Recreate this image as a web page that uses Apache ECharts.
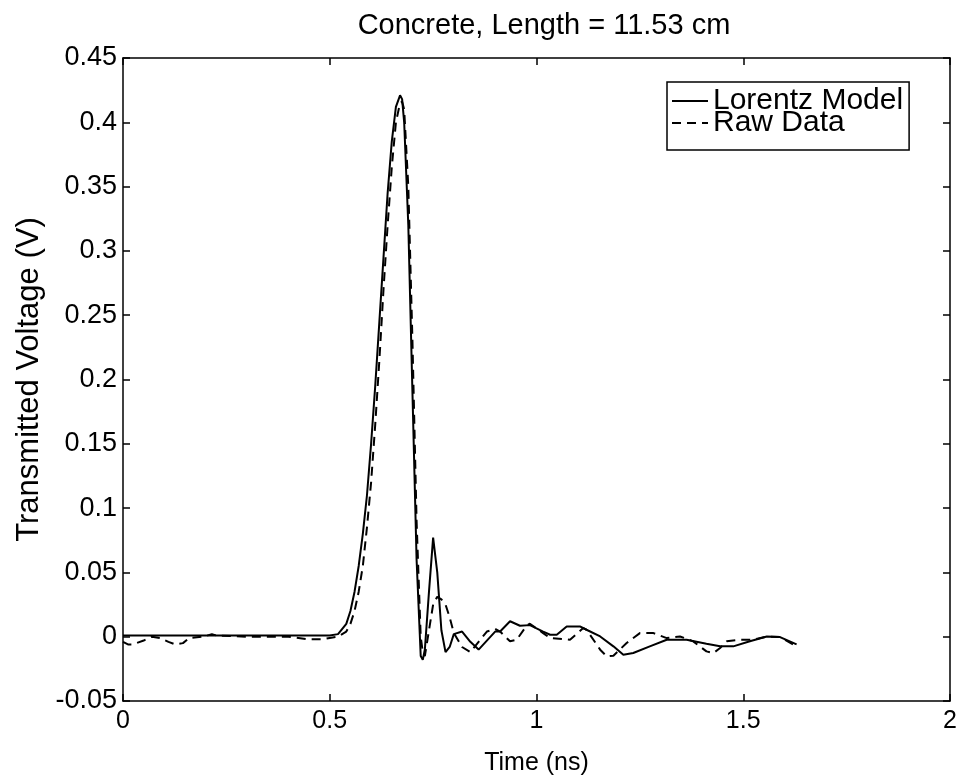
<!DOCTYPE html>
<html>
<head>
<meta charset="utf-8">
<script src="https://cdn.jsdelivr.net/npm/echarts@6/dist/echarts.min.js"></script>
<style>html,body{margin:0;padding:0;background:#fff;}#c{width:960px;height:782px;}</style>
</head>
<body>
<div id="c"></div>
<script>
const titleText = 'Concrete, Length = 11.53 cm';
const xName = 'Time (ns)';
const yName = 'Transmitted Voltage (V)';
const seriesNames = ['Lorentz Model', 'Raw Data'];

const lorentzTime = [0, 0.1, 0.2, 0.3, 0.4, 0.5, 0.52, 0.54, 0.55, 0.56, 0.57, 0.58, 0.59, 0.60, 0.61, 0.62, 0.63, 0.64, 0.65, 0.66, 0.67, 0.675, 0.68, 0.69, 0.70, 0.71, 0.72, 0.725, 0.73, 0.74, 0.75, 0.76, 0.77, 0.78, 0.79, 0.80, 0.82, 0.84, 0.86, 0.88, 0.90, 0.912, 0.936, 0.960, 0.984, 1.016, 1.033, 1.049, 1.073, 1.105, 1.121, 1.154, 1.186, 1.210, 1.234, 1.274, 1.315, 1.363, 1.411, 1.444, 1.476, 1.516, 1.557, 1.589, 1.629];
const lorentzVolt = [0.001, 0.001, 0.001, 0.001, 0.001, 0.001, 0.002, 0.01, 0.02, 0.035, 0.055, 0.08, 0.11, 0.15, 0.195, 0.245, 0.295, 0.345, 0.385, 0.412, 0.421, 0.418, 0.40, 0.32, 0.19, 0.06, -0.015, -0.018, -0.01, 0.035, 0.077, 0.05, 0.005, -0.012, -0.008, 0.002, 0.004, -0.004, -0.01, -0.003, 0.004, 0.004, 0.012, 0.0085, 0.009, 0.004, 0.0015, 0.0015, 0.008, 0.008, 0.0054, 0.0002, -0.0075, -0.014, -0.0127, -0.0075, -0.0024, -0.0024, -0.0055, -0.0075, -0.0075, -0.0036, 0.0002, -0.0003, -0.006];

const rawTime = [0, 0.012, 0.024, 0.05, 0.07, 0.09, 0.11, 0.126, 0.145, 0.16, 0.19, 0.205, 0.215, 0.225, 0.3, 0.4, 0.445, 0.465, 0.484, 0.5, 0.52, 0.54, 0.55, 0.56, 0.57, 0.58, 0.59, 0.60, 0.61, 0.62, 0.63, 0.64, 0.65, 0.66, 0.67, 0.675, 0.68, 0.69, 0.70, 0.71, 0.72, 0.725, 0.73, 0.74, 0.75, 0.76, 0.77, 0.78, 0.79, 0.80, 0.82, 0.84, 0.86, 0.88, 0.90, 0.912, 0.936, 0.952, 0.976, 0.984, 1.016, 1.033, 1.081, 1.113, 1.121, 1.154, 1.170, 1.186, 1.218, 1.250, 1.283, 1.315, 1.347, 1.379, 1.411, 1.428, 1.444, 1.460, 1.492, 1.524, 1.557, 1.589, 1.629];
const rawVolt = [-0.004, -0.006, -0.006, -0.003, 0.0, -0.001, -0.004, -0.006, -0.005, -0.001, 0.0, 0.001, 0.002, 0.001, 0.0, 0.0, -0.002, -0.002, -0.002, -0.001, 0.0, 0.004, 0.01, 0.02, 0.035, 0.055, 0.085, 0.12, 0.165, 0.215, 0.27, 0.32, 0.365, 0.40, 0.415, 0.416, 0.41, 0.35, 0.23, 0.09, 0.0, -0.012, -0.015, 0.005, 0.025, 0.031, 0.029, 0.025, 0.015, 0.003, -0.008, -0.012, -0.004, 0.004, 0.006, 0.004, -0.0036, -0.0024, 0.0085, 0.0101, 0.0028, -0.0011, -0.0024, 0.0067, 0.0054, -0.0101, -0.0153, -0.0148, -0.0049, 0.0028, 0.0028, -0.0011, 0.0002, -0.0036, -0.0114, -0.0127, -0.0088, -0.0036, -0.0024, -0.0024, 0.0002, -0.0003, -0.0075];

const zip = (t, v) => t.map((x, i) => [x, v[i]]);

const chart = echarts.init(document.getElementById('c'), null, {renderer: 'canvas'});
const font = 'Liberation Sans, Arial, Helvetica, sans-serif';
const mkLine = () => ({show: true, onZero: false, lineStyle: {color: '#000', width: 1.5}});
const mkTick = () => ({show: true, inside: true, length: 7, lineStyle: {color: '#000', width: 1.5}});

chart.setOption({
  animation: false,
  backgroundColor: '#fff',
  title: {
    text: titleText, left: 539, top: 6, textAlign: 'center',
    textStyle: {fontFamily: font, fontSize: 29, fontWeight: 'normal', color: '#000'}
  },
  grid: {left: 123, right: 10, top: 58, bottom: 81, show: false},
  legend: {
    data: seriesNames, orient: 'vertical', left: 667, top: 82,
    borderColor: '#000', borderWidth: 1.5, padding: [4, 6, 12, 4], itemGap: -8,
    itemWidth: 36, itemHeight: 22,
    itemStyle: {opacity: 0},
    textStyle: {fontFamily: font, fontSize: 30, color: '#000', lineHeight: 22}
  },
  xAxis: [
    {type: 'value', min: 0, max: 2, interval: 0.5, position: 'bottom',
     axisLine: mkLine(), axisTick: mkTick(), splitLine: {show: false},
     axisLabel: {fontFamily: font, fontSize: 25, color: '#000', margin: 8},
     name: xName, nameLocation: 'middle', nameGap: 50,
     nameTextStyle: {fontFamily: font, fontSize: 25, color: '#000'}},
    {type: 'value', min: 0, max: 2, interval: 0.5, position: 'top',
     axisLine: mkLine(), axisTick: mkTick(), splitLine: {show: false}, axisLabel: {show: false}}
  ],
  yAxis: [
    {type: 'value', min: -0.05, max: 0.45, interval: 0.05, position: 'left',
     axisLine: mkLine(), axisTick: mkTick(), splitLine: {show: false},
     axisLabel: {fontFamily: font, fontSize: 27, color: '#000', margin: 6},
     name: yName, nameLocation: 'middle', nameGap: 78,
     nameTextStyle: {fontFamily: font, fontSize: 31, color: '#000'}},
    {type: 'value', min: -0.05, max: 0.45, interval: 0.05, position: 'right',
     axisLine: mkLine(), axisTick: mkTick(), splitLine: {show: false}, axisLabel: {show: false}}
  ],
  series: [
    {name: seriesNames[0], type: 'line', data: zip(lorentzTime, lorentzVolt), showSymbol: false, symbol: 'none',
     xAxisIndex: 0, yAxisIndex: 0,
     lineStyle: {color: '#000', width: 2, type: 'solid'}, itemStyle: {color: '#000'}},
    {name: seriesNames[1], type: 'line', data: zip(rawTime, rawVolt), showSymbol: false, symbol: 'none',
     xAxisIndex: 0, yAxisIndex: 0,
     lineStyle: {color: '#000', width: 2, type: [9, 6]}, itemStyle: {color: '#000'}}
  ]
});
</script>
</body>
</html>
